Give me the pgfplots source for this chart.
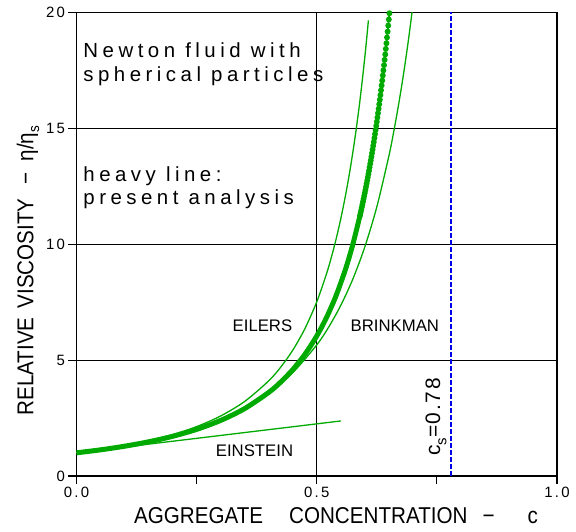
\documentclass[border=0pt]{standalone}
\usepackage{fontspec}
\setmainfont{Liberation Sans}
\newfontfamily\spaced[LetterSpace=22]{Liberation Sans}
\newfontfamily\spacedsmall[LetterSpace=15]{Liberation Sans}
\newfontfamily\csfont[LetterSpace=8]{Liberation Sans}
\newfontfamily\labfont[FakeStretch=0.9]{Liberation Sans}
\usepackage{pgfplots}
\pgfplotsset{compat=1.18}
\definecolor{curvegreen}{RGB}{0,170,0}
\definecolor{csblue}{RGB}{0,0,230}

\begin{document}
\begin{tikzpicture}
\path[use as bounding box] (-76.5bp,-56bp) rectangle (499.5bp,476bp);
\begin{axis}[
  at={(0,0)}, anchor=south west,
  scale only axis, width=480.5bp, height=463.5bp,
  xmin=0, xmax=1, ymin=0, ymax=20,
  xtick={0,0.5,1}, xticklabels={0.0,0.5,1.0},
  minor xtick={0.25,0.75},
  ytick={0,5,10,15,20},
  tick align=outside, tick pos=left,
  major tick length=8bp, minor tick length=8bp,
  xmajorgrids, ymajorgrids,
  grid style={black, line width=1.1bp},
  axis line style={line width=1.3bp},
  tick style={black, line width=1.1bp},
  minor tick style={black, line width=1.1bp},
  tick label style={font=\fontsize{15}{18}\selectfont\spacedsmall},
  /pgf/number format/assume math mode=true,
  xlabel={AGGREGATE\hspace{26bp}CONCENTRATION\hspace{15bp}−\hspace{33bp}c},
  ylabel={RELATIVE\hspace{9bp}VISCOSITY\hspace{14bp}−\hspace{11bp}η/η\raisebox{-0.25em}{\fontsize{15}{15}\selectfont s}},
  xlabel style={at={(axis description cs:0.540,-0.102)}, anchor=base, font=\fontsize{23}{26}\selectfont\labfont},
  ylabel style={at={(axis description cs:-0.0899,0.443)}, anchor=base, font=\fontsize{23}{26}\selectfont\labfont},
]
% Eilers
\addplot[curvegreen, line width=1.3bp, smooth, mark=none] coordinates {
  (0,1) (0.05,1.1380) (0.1,1.3073) (0.15,1.5182) (0.2,1.7854) (0.25,2.1313)
  (0.3,2.5901) (0.35,3.2170) (0.4,4.1060) (0.425,4.6970) (0.45,5.4268)
  (0.475,6.3426) (0.5,7.5135) (0.52,8.7025) (0.53,9.4065) (0.54,10.2000)
  (0.55,11.0990) (0.56,12.1231) (0.57,13.2964) (0.58,14.6498) (0.59,16.2218)
  (0.6,18.0625) (0.6075,19.6577)
};
% Brinkman
\addplot[curvegreen, line width=1.3bp, smooth, mark=none] coordinates {
  (0,1) (0.05,1.1368) (0.1,1.3013) (0.15,1.5012) (0.2,1.7469) (0.25,2.0528)
  (0.3,2.4392) (0.35,2.9357) (0.4,3.5861) (0.45,4.4575) (0.5,5.6569)
  (0.525,6.4308) (0.55,7.3615) (0.575,8.4923) (0.6,9.8821) (0.625,11.6124)
  (0.65,13.7984) (0.66,14.8355) (0.67,15.9851) (0.68,17.2633) (0.69,18.6894)
  (0.7,20.2860)
};
% Einstein
\addplot[curvegreen, line width=1.3bp, mark=none] coordinates {(0,1) (0.55,2.375)};
% present analysis, heavy part
\addplot[curvegreen, line width=5bp, smooth, mark=none] coordinates {
  (0,1) (0.05,1.1288) (0.1,1.2845) (0.15,1.4750) (0.2,1.7119) (0.25,2.0115)
  (0.3,2.3981) (0.35,2.9093) (0.4,3.6053) (0.425,4.0520) (0.45,4.5880)
  (0.475,5.2391) (0.5,6.0410) (0.52,6.8242) (0.54,7.7720) (0.56,8.9339)
  (0.575,9.9873) (0.59,11.240)
};
% present analysis, dotted top
\addplot[curvegreen, line width=1.8bp, mark=*, mark size=2bp,
  mark options={solid, draw=none, fill=curvegreen}] coordinates {
  (0.59,11.240) (0.59125,11.356) (0.5925,11.472) (0.59375,11.591) (0.595,11.712)
  (0.59625,11.834) (0.5975,11.958) (0.59875,12.085) (0.6,12.213) (0.60125,12.344)
  (0.6025,12.476) (0.60375,12.611) (0.605,12.748) (0.60625,12.887) (0.6075,13.029)
  (0.60875,13.173) (0.61,13.319) (0.61125,13.468) (0.6125,13.620) (0.61375,13.774)
  (0.615,13.930) (0.61625,14.089) (0.6175,14.252) (0.61875,14.416) (0.62,14.584)
  (0.62125,14.755) (0.6225,14.929) (0.62375,15.106) (0.625,15.286) (0.62625,15.469)
  (0.6275,15.656) (0.62875,15.846) (0.63,16.040) (0.63125,16.237) (0.6325,16.438)
  (0.63375,16.643) (0.635,16.852) (0.63625,17.064) (0.6375,17.281) (0.63875,17.502)
  (0.64,17.727) (0.64125,17.957) (0.6425,18.191) (0.64375,18.430) (0.645,18.674)
  (0.64625,18.922) (0.6475,19.176) (0.64875,19.434) (0.65,19.698) (0.65125,19.968)
  (0.6525,20.243)
};
% c_s
\addplot[color=csblue, solid, line width=1.6bp, dash pattern=on 4.5bp off 2.5bp, mark=none]
  coordinates {(0.78,0) (0.78,20)};

\node[anchor=base west, inner sep=0pt, font=\fontsize{20.5}{24}\selectfont\spaced] at (axis cs:0.014,18.05) {Newton fluid with};
\node[anchor=base west, inner sep=0pt, font=\fontsize{20.5}{24}\selectfont\spaced] at (axis cs:0.014,17.04) {spherical particles};
\node[anchor=base west, inner sep=0pt, font=\fontsize{20.5}{24}\selectfont\spaced] at (axis cs:0.014,12.69) {heavy line:};
\node[anchor=base west, inner sep=0pt, font=\fontsize{20.5}{24}\selectfont\spaced] at (axis cs:0.014,11.72) {present analysis};
\node[anchor=base, font=\fontsize{16.8}{20}\selectfont] at (axis cs:0.387,6.25) {EILERS};
\node[anchor=base, font=\fontsize{16.8}{20}\selectfont] at (axis cs:0.6625,6.25) {BRINKMAN};
\node[anchor=base, font=\fontsize{16.8}{20}\selectfont] at (axis cs:0.3705,0.83) {EINSTEIN};
\node[rotate=90, anchor=center, font=\fontsize{21}{24}\selectfont\csfont] at (axis cs:0.748,2.54)
  {c\raisebox{-0.3em}{\fontsize{15}{15}\selectfont s}=0.78};
\end{axis}
\end{tikzpicture}
\end{document}
